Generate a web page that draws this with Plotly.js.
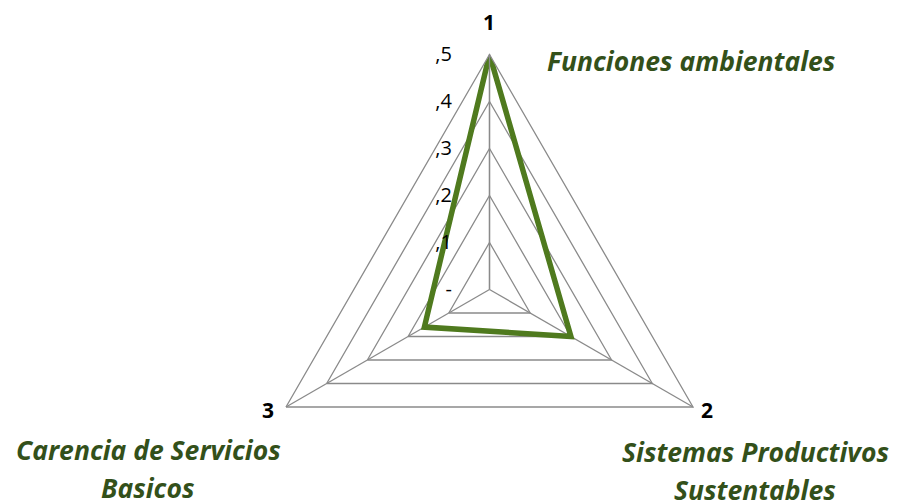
<!DOCTYPE html>
<html>
<head>
<meta charset="utf-8">
<script src="https://cdn.plot.ly/plotly-3.0.1.min.js"></script>
<style>
  html, body { margin: 0; padding: 0; overflow: hidden; background: #fff; }
  #chart { width: 897px; height: 560px; }
</style>
</head>
<body>
<div id="chart"></div>
<script>
// axes of the radar and the one series
const categories = ['1', '2', '3'];
const values = [0.5, 0.2, 0.16];
const radialTicks = [0, 0.1, 0.2, 0.3, 0.4, 0.5];
const radialTickText = ['-', ',1', ',2', ',3', ',4', ',5'];
const axisNames = ['Funciones ambientales', 'Sistemas Productivos<br>Sustentables', 'Carencia de Servicios<br>Basicos'];

const W = 897, H = 560;   // figure is taller than the window, bottom gets cropped like the original
const cx = 489.5, cy = 289.5, R = 235;
const gridCol = '#8a8a8a';
const labelCol = '#33501a';
const font = '"Open Sans", Lato, sans-serif';

// pixel spots for the category numbers and the axis names
const numPos = [{x: 489, y: 22}, {x: 707, y: 410}, {x: 268, y: 410}];
const namePos = [{x: 691, y: 61}, {x: 755, y: 452}, {x: 148, y: 450}];
const lineGap = 38;

const annotations = [];
categories.forEach((c, i) => {
  annotations.push({
    x: numPos[i].x / W, y: 1 - numPos[i].y / H,
    xref: 'paper', yref: 'paper', xanchor: 'center', yanchor: 'middle',
    text: '<b>' + c + '</b>', showarrow: false,
    font: {family: font, size: 21, color: '#000'}
  });
});
axisNames.forEach((name, i) => {
  name.split('<br>').forEach((line, j) => {
    annotations.push({
      x: namePos[i].x / W,
      y: 1 - (namePos[i].y + j * lineGap) / H,
      xref: 'paper', yref: 'paper',
      xanchor: 'center', yanchor: 'middle',
      text: '<b><i>' + line + '</i></b>',
      showarrow: false,
      font: {family: font, size: 26.5, color: labelCol}
    });
  });
});

const trace = {
  type: 'scatterpolar',
  r: values.concat(values[0]),
  theta: categories.concat(categories[0]),
  mode: 'lines',
  line: {color: '#4f7a1e', width: 5.5},
  hoverinfo: 'none'
};

const layout = {
  width: W,
  height: H,
  margin: {l: 0, r: 0, t: 0, b: 0},
  paper_bgcolor: '#fff',
  showlegend: false,
  polar: {
    domain: {
      x: [(cx - R) / W, (cx + R) / W],
      y: [(H - (cy + R)) / H, (H - (cy - R)) / H]
    },
    gridshape: 'linear',
    bgcolor: '#fff',
    angularaxis: {
      type: 'category',
      categoryarray: categories,
      rotation: 90,
      direction: 'clockwise',
      showline: true,
      linecolor: gridCol,
      linewidth: 1.3,
      showgrid: true,
      gridcolor: gridCol,
      gridwidth: 1.3,
      ticks: '',
      showticklabels: false
    },
    radialaxis: {
      range: [0, 0.5],
      angle: 90,
      side: 'counterclockwise',
      tickvals: radialTicks,
      ticktext: radialTickText,
      tickangle: 90,
      showline: true,
      linecolor: gridCol,
      linewidth: 1.3,
      showgrid: true,
      gridcolor: gridCol,
      gridwidth: 1.3,
      ticks: 'outside',
      ticklen: 30,
      tickcolor: 'rgba(0,0,0,0)',
      tickfont: {family: font, size: 20, color: '#000'}
    }
  },
  annotations: annotations
};

Plotly.newPlot('chart', [trace], layout, {displayModeBar: false, staticPlot: true});
</script>
</body>
</html>
